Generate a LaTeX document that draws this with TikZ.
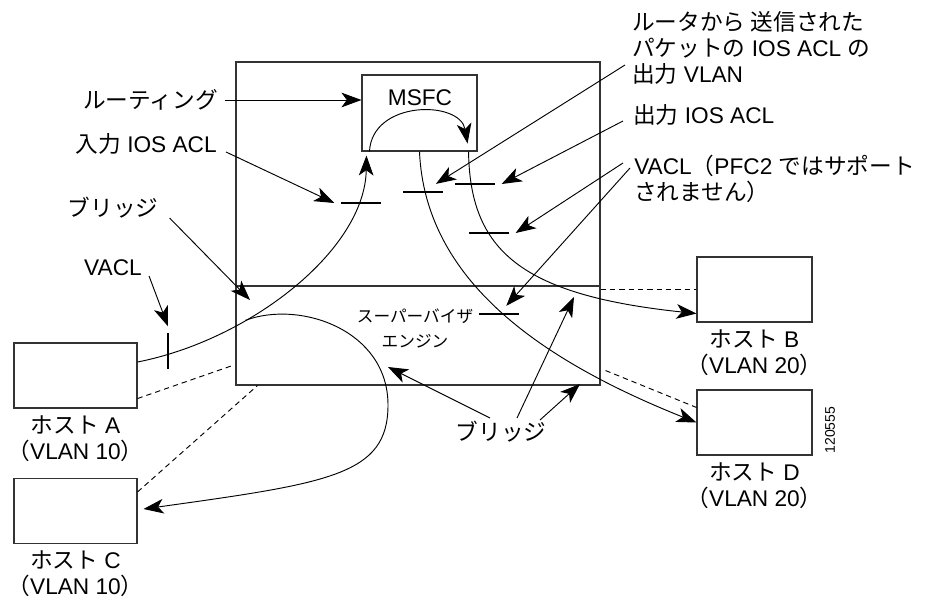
\documentclass[tikz,border=0pt]{standalone}
\usepackage{fontspec}
\setmainfont{Liberation Sans}
\newfontfamily\jp{Noto Sans CJK JP}
\usetikzlibrary{arrows.meta,positioning}
\tikzset{
  box/.style={draw=black!80, line width=0.8pt, inner sep=0},
  host/.style={box, minimum width=92.25pt, minimum height=48.75pt},
  lbl/.style={inner sep=0, font=\fontsize{17}{19.5}\selectfont},
  hostlbl/.style={inner sep=0, align=center, font=\fontsize{17}{19.5}\selectfont},
  aclbar/.style={fill=black, inner sep=0, outer sep=5pt, minimum width=30pt, minimum height=2.2pt},
  arr/.style={line width=0.7pt, -{Stealth[length=15pt,width=11pt,inset=4pt]}},
  link/.style={line width=0.7pt, dash pattern=on 4pt off 3pt}
}
\begin{document}
\begin{tikzpicture}[x=0.75pt, y=-0.75pt]
\useasboundingbox (0,0) rectangle (932,598);
\node[box, minimum width=273pt, minimum height=242.25pt] (sw) at (418,223.5) {};
\draw[box] (236,286) -- (600,286);
\node[box, minimum width=86.25pt, minimum height=57pt] (msfc) at (419.5,113) {};
\node[lbl] (msfctxt) at (420,97.5) {MSFC};
\node[host] (hostA) at (75.5,375.5) {};
\node[host] (hostC) at (75.5,511) {};
\node[host, minimum width=86.25pt] (hostB) at (754.5,289.5) {};
\node[host, minimum width=86.25pt] (hostD) at (754.5,422.5) {};
\node[hostlbl, below=5pt of hostA] (hostAlbl) {{\jp ホスト} A\\{\jp （}VLAN 10{\jp ）}};
\node[hostlbl, below=5pt of hostC] (hostClbl) {{\jp ホスト} C\\{\jp （}VLAN 10{\jp ）}};
\node[hostlbl, below=5pt of hostB] (hostBlbl) {{\jp ホスト} B\\{\jp （}VLAN 20{\jp ）}};
\node[hostlbl, below=5pt of hostD] (hostDlbl) {{\jp ホスト} D\\{\jp （}VLAN 20{\jp ）}};
\node[aclbar] (acl1) at (361,203) {};
\node[aclbar] (acl2) at (423,192) {};
\node[aclbar] (acl3) at (475,184) {};
\node[aclbar] (acl4) at (489,233) {};
\node[aclbar] (acl5) at (499,314) {};
\node[aclbar, minimum width=2.2pt, minimum height=27pt] (vacl) at (168,351) {};
\node[lbl, anchor=east] (routing) at (218,100) {{\jp ルーティング}};
\node[lbl, anchor=east] (inacl) at (217,144) {{\jp 入力} IOS ACL};
\node[lbl] (bridgeA) at (113,208) {{\jp ブリッジ}};
\node[lbl] (vaclA) at (113,268) {VACL};
\node[lbl, anchor=west, align=left] (sent) at (632,48) {{\jp ルータから 送信された}\\{\jp パケットの} IOS ACL {\jp の}\\{\jp 出力} VLAN};
\node[lbl, anchor=west] (outacl) at (633,115) {{\jp 出力} IOS ACL};
\node[lbl, anchor=west, align=left] (vaclB) at (634,179) {VACL{\jp （}PFC2 {\jp ではサポート}\\{\jp されません）}};
\node[lbl, align=center, font=\fontsize{12.5}{18.75}\selectfont] (sup) at (415,328) {{\jp スーパーバイザ}\\{\jp エンジン}};
\node[lbl] (bridgeB) at (501,432) {{\jp ブリッジ}};
\node[lbl, rotate=90, font=\fontsize{10.5}{12}\selectfont] (figid) at (830,430) {120555};
\coordinate (brtop) at (250,300);
\coordinate (brloop) at (388,367);
\coordinate (brhigh) at (574,297);
\coordinate (brlow) at (580,384);
\draw[arr] ([shift={(0,-13.5)}]hostA.east) .. controls (250,340) and (365,250) .. coordinate[pos=0.33] (fork) ([shift={(5,4)}]msfc.south west);
\draw[arr] ([xshift=6pt]msfc.south west) .. controls (372,100) and (460,100) .. ([shift={(-10,-8)}]msfc.south east);
\draw[arr] ([xshift=-6.75pt]msfc.south east) .. controls (470,250) and (520,295) .. ([shift={(0,-9)}]hostB.south west);
\draw[arr] (msfc.south) .. controls (425,280) and (540,360) .. (hostD.west);
\draw[arr] (fork) .. controls (300,300) and (388,330) .. (388,405) .. controls (388,475) and (330,483) .. ([shift={(6,-2)}]hostC.east);
\draw[link] ([shift={(0,-10)}]hostA.south east) -- ([shift={(-3,-20)}]sw.south west);
\draw[link] ([shift={(0,14)}]hostC.north east) -- ([shift={(22,0)}]sw.south west);
\draw[link] (hostB.west -| sw.east) -- (hostB.west);
\draw[link] ([shift={(5,-15)}]sw.south east) -- ([shift={(0,18)}]hostD.north west);
\draw[arr, shorten <=5pt] (routing.east) -- (routing.east -| msfc.west);
\draw[arr] ([shift={(9,8)}]inacl.east) -- (acl1.west);
\draw[arr] ([shift={(11,10)}]bridgeA.east) -- (brtop);
\draw[arr] ([shift={(7,8)}]vaclA.east) -- (vacl.north);
\draw[arr] ([shift={(-7,17)}]sent.west) -- (acl2);
\draw[arr] ([shift={(-10,6)}]outacl.west) -- (acl3.east);
\draw[arr] ([shift={(-11,-16)}]vaclB.west) -- (acl4.east);
\draw[arr] ([shift={(-4,-11)}]vaclB.west) -- (acl5);
\draw[arr] ([shift={(-11,-14)}]bridgeB.center) -- (brloop);
\draw[arr] ([shift={(16,-14)}]bridgeB.center) -- (brhigh);
\draw[arr] ([shift={(39,-12)}]bridgeB.center) -- (brlow);
\end{tikzpicture}
\end{document}
